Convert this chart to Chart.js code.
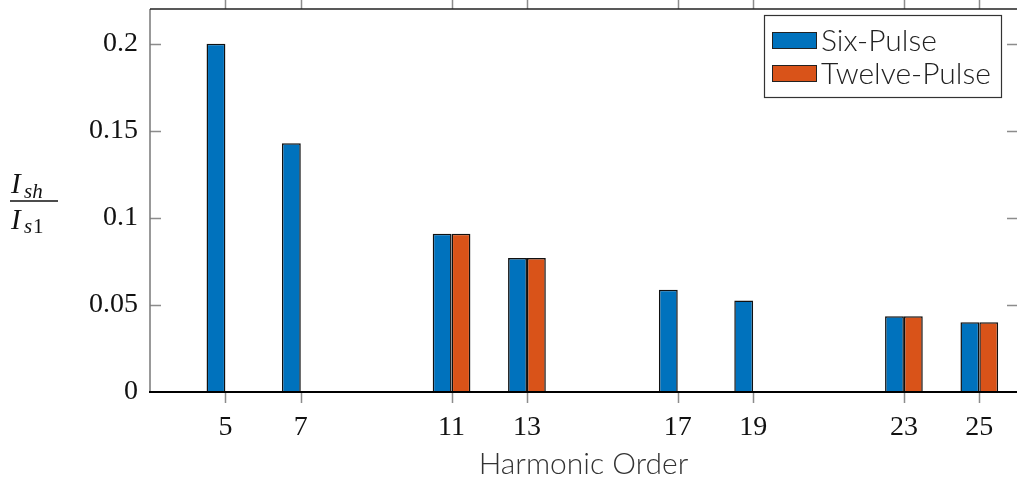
<!DOCTYPE html>
<html>
<head>
<meta charset="utf-8">
<title>Harmonic Order</title>
<script src="https://cdn.jsdelivr.net/npm/chart.js@4.4.1/dist/chart.umd.min.js"></script>
<style>
    html, body { margin: 0; padding: 0; background: #fff; }
    #wrap { width: 1017px; height: 482px; position: relative; }
</style>
</head>
<body>
<div id="wrap"><canvas id="harmonicChart" width="1017" height="482"></canvas></div>
<script>
// harmonic orders and relative current magnitudes (Ish / Is1)
var harmonics = [5, 7, 11, 13, 17, 19, 23, 25];
var sixPulse = [0.2, 0.1429, 0.0909, 0.0769, 0.0588, 0.0526, 0.0435, 0.04];
var twelvePulse = [null, null, 0.0909, 0.0769, null, null, 0.0435, 0.04];
var yTicks = [0, 0.05, 0.1, 0.15, 0.2];
var seriesLabels = ['Six-Pulse', 'Twelve-Pulse'];

(function() {
    'use strict';

    var BLUE = '#0072bd';
    var ORANGE = '#d95319';
    var SERIF = '"Liberation Serif", "DejaVu Serif", serif';
    var SANS = 'Lato, "Open Sans", sans-serif';

    function toPoints(values) {
        var pts = [];
        for (var i = 0; i < harmonics.length; i++) {
            if (values[i] !== null) {
                pts.push({ x: harmonics[i], y: values[i] });
            }
        }
        return pts;
    }

    // box, tick marks, fraction label and legend in pgfplots style
    var pgfAxes = {
        id: 'pgfAxes',
        afterDatasetsDraw: function(chart) {
            var ctx = chart.ctx;
            var a = chart.chartArea;
            var xs = chart.scales.x;
            var ys = chart.scales.y;
            var i, px, py;

            ctx.save();
            ctx.lineCap = 'butt';

            // tick marks
            ctx.strokeStyle = '#8c8c8c';
            ctx.lineWidth = 1.5;
            ctx.beginPath();
            for (i = 0; i < harmonics.length; i++) {
                px = Math.round(xs.getPixelForValue(harmonics[i])) + 0.5;
                ctx.moveTo(px, a.bottom);
                ctx.lineTo(px, a.bottom + 11);
                ctx.moveTo(px, a.top);
                ctx.lineTo(px, a.top - 9);
            }
            for (i = 1; i < yTicks.length; i++) {
                py = Math.round(ys.getPixelForValue(yTicks[i])) + 0.5;
                ctx.moveTo(a.left, py);
                ctx.lineTo(a.left + 11, py);
                ctx.moveTo(a.right, py);
                ctx.lineTo(a.right - 10, py);
            }
            ctx.stroke();

            // axis lines
            ctx.strokeStyle = '#777';
            ctx.lineWidth = 1.5;
            ctx.beginPath();
            ctx.moveTo(a.left, a.top);
            ctx.lineTo(a.left, a.bottom);
            ctx.stroke();

            ctx.strokeStyle = '#222';
            ctx.beginPath();
            ctx.moveTo(a.left, a.top);
            ctx.lineTo(a.right, a.top);
            ctx.stroke();

            ctx.strokeStyle = '#000';
            ctx.lineWidth = 2;
            ctx.beginPath();
            ctx.moveTo(a.left - 1, a.bottom);
            ctx.lineTo(a.right, a.bottom);
            ctx.stroke();
            ctx.restore();
        },
        afterDraw: function(chart) {
            var ctx = chart.ctx;
            var a = chart.chartArea;
            var cy = Math.round((a.top + a.bottom) / 2);
            var i;

            ctx.save();
            // y axis label: I_sh / I_s1
            ctx.fillStyle = '#111';
            ctx.textBaseline = 'alphabetic';
            ctx.textAlign = 'left';
            ctx.font = 'italic 29px ' + SERIF;
            ctx.fillText('I', 11, cy - 8);
            ctx.fillText('I', 11, cy + 28);
            ctx.font = 'italic 21px ' + SERIF;
            ctx.fillText('sh', 24, cy - 3);
            ctx.fillText('s', 24, cy + 32);
            ctx.font = '21px ' + SERIF;
            ctx.fillText('1', 33, cy + 32);
            ctx.strokeStyle = '#111';
            ctx.lineWidth = 1.5;
            ctx.beginPath();
            ctx.moveTo(10, cy);
            ctx.lineTo(58, cy);
            ctx.stroke();

            // legend
            var box = { x: 764, y: 15, w: 237, h: 82 };
            ctx.fillStyle = '#fff';
            ctx.fillRect(box.x, box.y, box.w, box.h);
            ctx.strokeStyle = '#333';
            ctx.lineWidth = 1.2;
            ctx.strokeRect(box.x + 0.5, box.y + 0.5, box.w, box.h);

            ctx.font = '300 30px ' + SANS;
            ctx.textBaseline = 'middle';
            var ds = chart.data.datasets;
            for (i = 0; i < ds.length; i++) {
                var rowY = box.y + 25 + i * 33;
                ctx.fillStyle = ds[i].backgroundColor;
                ctx.fillRect(box.x + 8, rowY - 8, 45, 17);
                ctx.strokeStyle = '#222';
                ctx.lineWidth = 1;
                ctx.strokeRect(box.x + 8.5, rowY - 7.5, 44, 16);
                ctx.fillStyle = '#222';
                ctx.fillText(ds[i].label, box.x + 57, rowY + 1);
            }
            ctx.restore();
        }
    };

    function initChart() {
        var canvas = document.getElementById('harmonicChart');
        if (!canvas) {
            console.error('Canvas element #harmonicChart not found');
            return;
        }
        var ctx = canvas.getContext('2d');

        new Chart(ctx, {
            type: 'bar',
            data: {
                datasets: [{
                    label: seriesLabels[0],
                    data: toPoints(sixPulse),
                    backgroundColor: BLUE,
                    borderColor: '#111',
                    borderWidth: 1.5
                }, {
                    label: seriesLabels[1],
                    data: toPoints(twelvePulse),
                    backgroundColor: ORANGE,
                    borderColor: '#111',
                    borderWidth: 1.5
                }]
            },
            options: {
                responsive: false,
                animation: false,
                categoryPercentage: 0.5,
                barPercentage: 1.0,
                layout: { padding: { top: 9, right: 0, left: 0, bottom: 0 } },
                plugins: {
                    legend: { display: false },
                    tooltip: { enabled: false }
                },
                scales: {
                    x: {
                        type: 'linear',
                        offset: false,
                        min: 3,
                        max: 26,
                        grid: { display: false, drawTicks: false },
                        border: { display: false },
                        afterBuildTicks: function(scale) {
                            scale.ticks = harmonics.map(function(h) { return { value: h }; });
                        },
                        afterFit: function(scale) {
                            scale.height = 90;
                            scale.paddingLeft = 0;
                            scale.paddingRight = 0;
                        },
                        ticks: {
                            padding: 19,
                            color: '#111',
                            font: { family: SERIF, size: 28 },
                            callback: function(v) { return String(v); }
                        },
                        title: {
                            display: true,
                            text: 'Harmonic Order',
                            color: '#333',
                            font: { family: SANS, size: 30, weight: '300' },
                            padding: { top: 0, bottom: 0 }
                        }
                    },
                    y: {
                        min: 0,
                        max: 0.22,
                        grid: { display: false, drawTicks: false },
                        border: { display: false },
                        afterBuildTicks: function(scale) {
                            scale.ticks = yTicks.map(function(v) { return { value: v }; });
                        },
                        afterFit: function(scale) {
                            scale.width = 150;
                            scale.paddingTop = 0;
                            scale.paddingBottom = 0;
                        },
                        ticks: {
                            padding: 12,
                            color: '#111',
                            font: { family: SERIF, size: 28 },
                            callback: function(v) { return String(+v.toFixed(2)); }
                        }
                    }
                }
            },
            plugins: [pgfAxes]
        });
    }

    if (document.readyState === 'loading') {
        document.addEventListener('DOMContentLoaded', initChart);
    } else {
        initChart();
    }
})();
</script>
</body>
</html>
